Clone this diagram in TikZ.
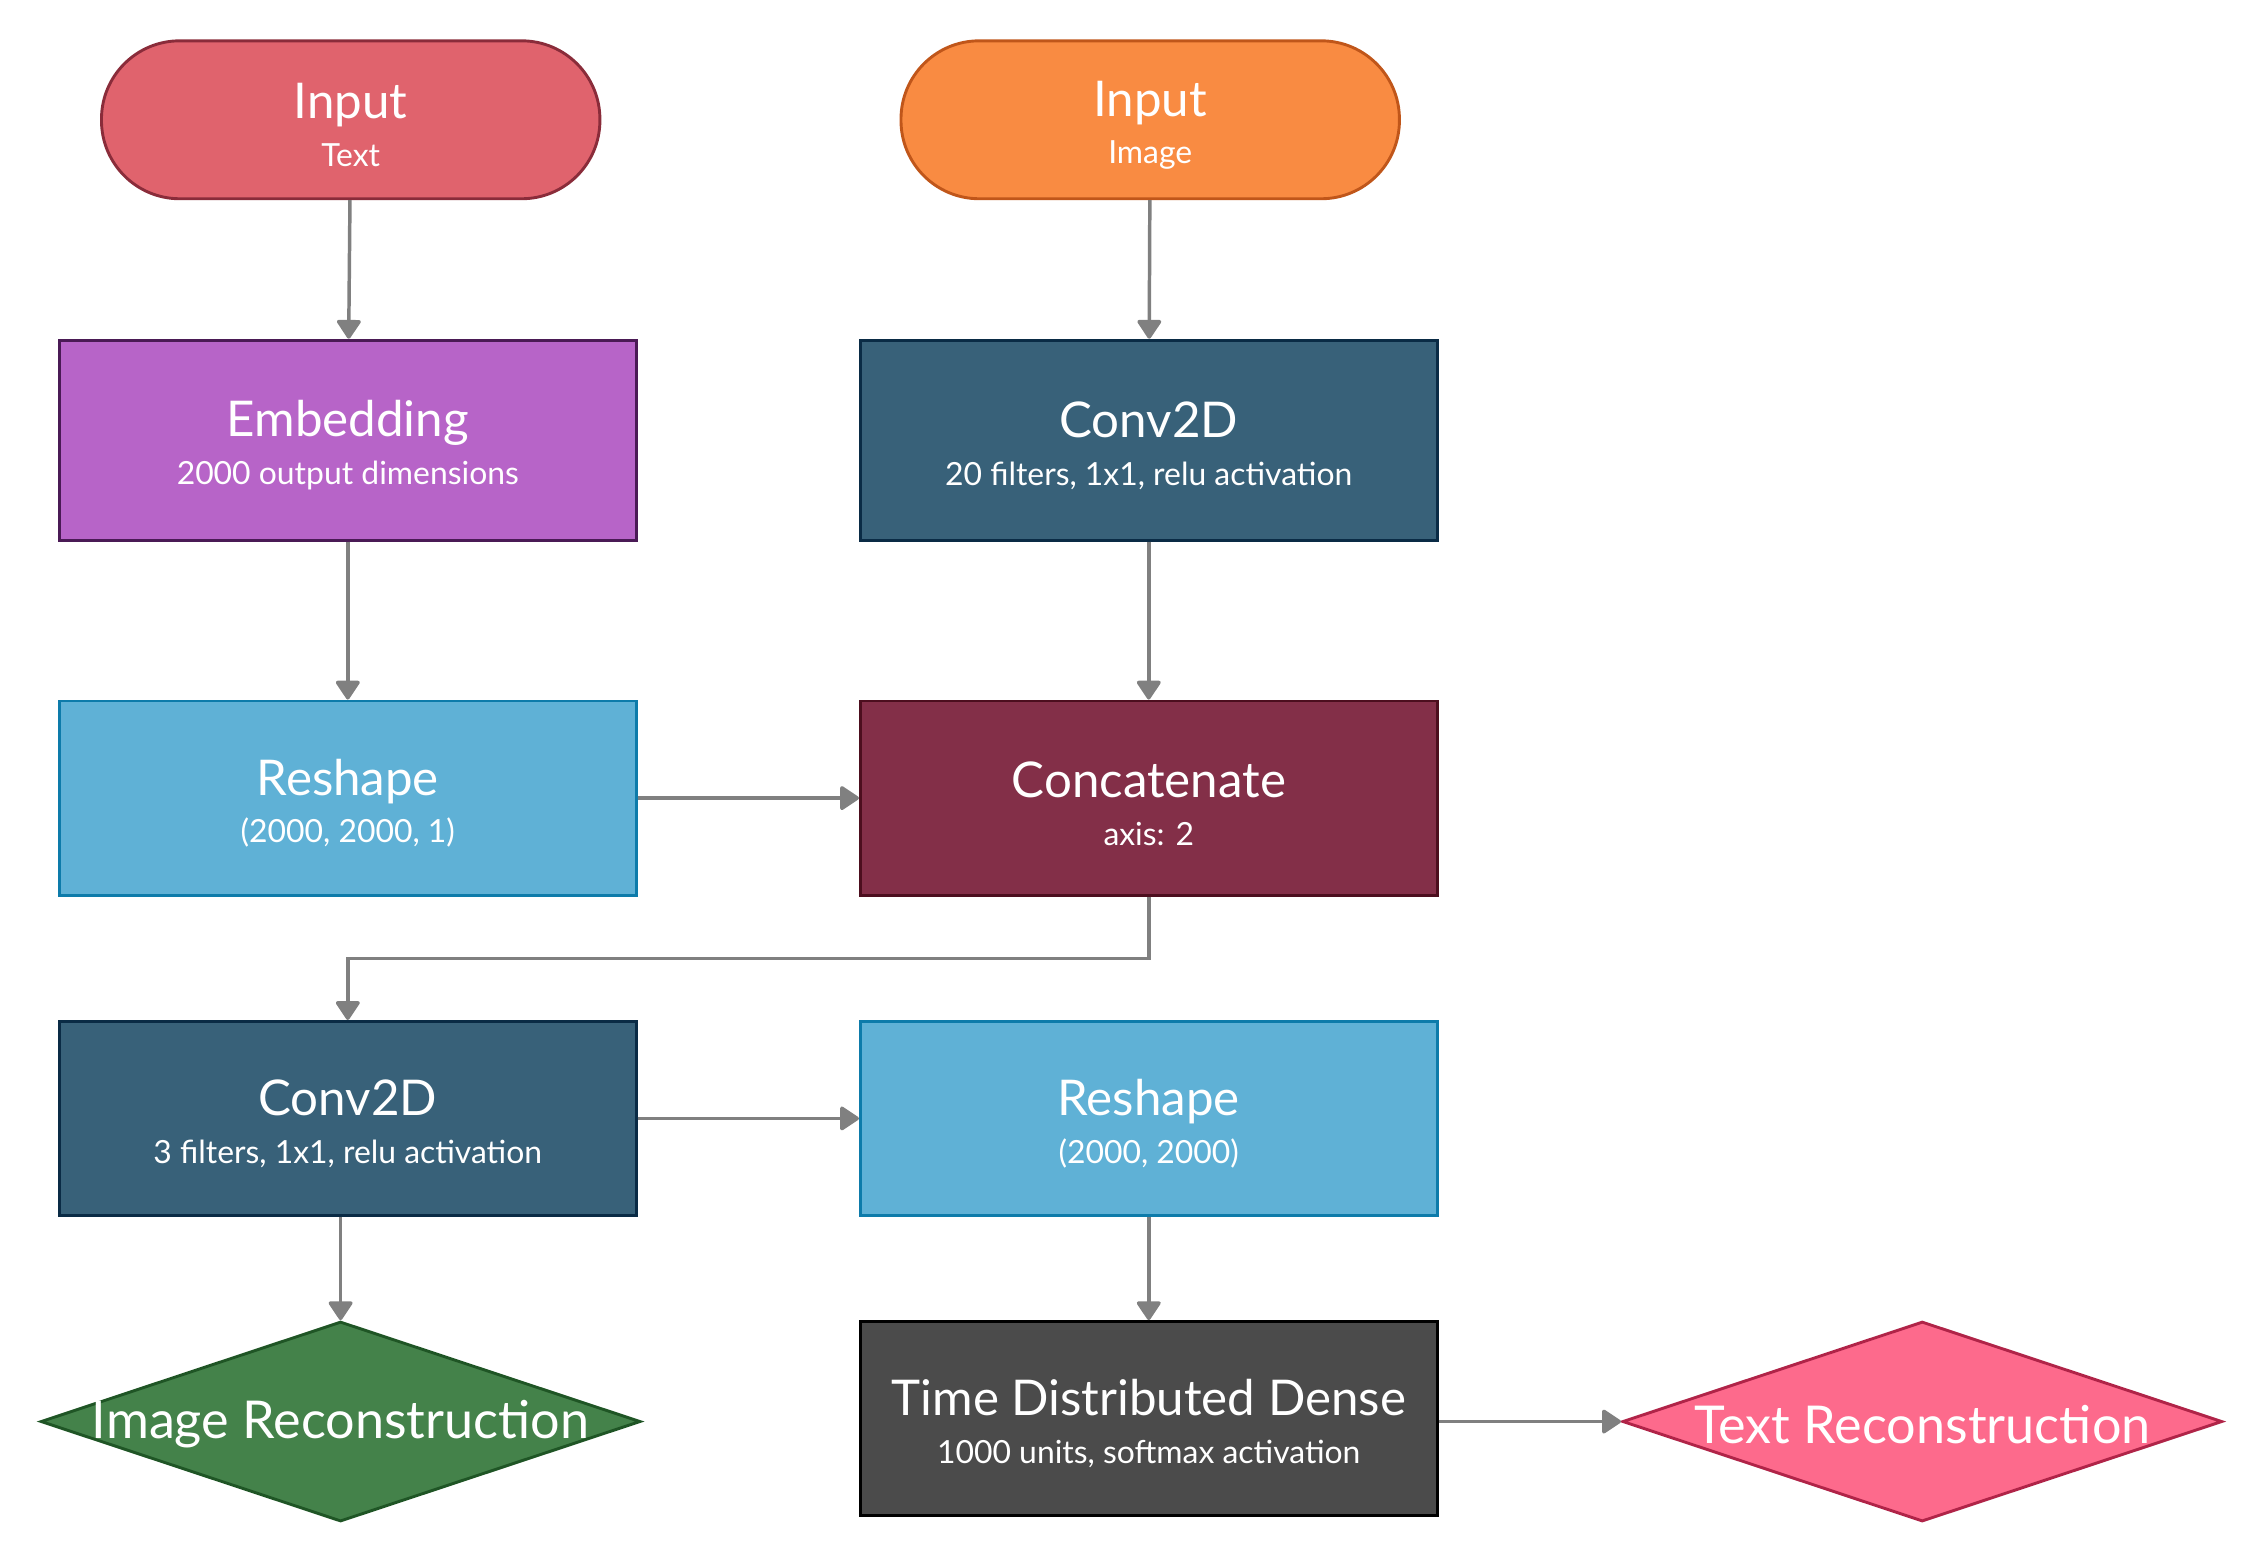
\documentclass[tikz,border=0pt]{standalone}
\usepackage{fontspec}
\setmainfont{Lato}
\usepackage{xcolor}
\usetikzlibrary{arrows.meta}
\usetikzlibrary{shapes.geometric}
\definecolor{txtred}{HTML}{E0636D}
\definecolor{txtredd}{HTML}{8A2C3A}
\definecolor{imgorange}{HTML}{F98B42}
\definecolor{imgoranged}{HTML}{C0561A}
\definecolor{embpurple}{HTML}{B764C8}
\definecolor{embpurpled}{HTML}{4A1A55}
\definecolor{convblue}{HTML}{386179}
\definecolor{convblued}{HTML}{0A2B45}
\definecolor{reshblue}{HTML}{5FB1D6}
\definecolor{reshblued}{HTML}{0D7BAA}
\definecolor{catred}{HTML}{832F48}
\definecolor{catredd}{HTML}{4C0E1E}
\definecolor{tddgray}{HTML}{4B4B4B}
\definecolor{imggreen}{HTML}{44824A}
\definecolor{imggreend}{HTML}{1F5525}
\definecolor{txtpink}{HTML}{FD6A8C}
\definecolor{txtpinkd}{HTML}{B02448}
\newcommand{\ttl}{\fontsize{17}{19}\selectfont\rule{0pt}{16pt}}
\newcommand{\sub}{\fontsize{11}{13}\selectfont}
\tikzset{layer/.style = {draw, line width=1pt, minimum width=199pt, minimum height=67pt, text=white, align=center, inner sep=0},
         inbox/.style = {layer, rounded corners=27pt, minimum width=172pt, minimum height=54.5pt},
         outdiam/.style = {diamond, draw, line width=1pt, minimum width=207pt, minimum height=69pt, inner sep=0},
         dlabel/.style = {text=white, font=\fontsize{18}{20}\selectfont, inner sep=0, yshift=-1pt},
         conn/.style = {draw=gray, line width=1.2pt, -{Triangle[length=7pt,width=9pt,round]}}}

\begin{document}
\begin{tikzpicture}[x=0.498pt,y=-0.498pt]
        \useasboundingbox (0,0) rectangle (1566,1081);
        \node [inbox, fill=txtred, draw=txtredd] (intext) at (243,83) {\ttl Input\\[4.5pt] \sub Text};
        \node [inbox, fill=imgorange, draw=imgoranged] (inimg) at (797,83) {\ttl Input\\[4.5pt] \sub Image};
        \node [layer, fill=embpurple, draw=embpurpled, minimum height=69pt] (embed) at (241,305) {\ttl Embedding\\[4.5pt] \sub 2000 output dimensions};
        \node [layer, fill=convblue, draw=convblued, minimum height=69pt] (convA) at (796,305) {\ttl Conv2D\\[4.5pt] \sub 20 filters, 1x1, relu activation};
        \node [layer, fill=reshblue, draw=reshblued] (reshA) at (241,553) {\ttl Reshape\\[4.5pt] \sub (2000, 2000, 1)};
        \node [layer, fill=catred, draw=catredd] (concat) at (796,553) {\ttl Concatenate\\[4.5pt] \sub axis: 2};
        \node [layer, fill=convblue, draw=convblued] (convB) at (241,775) {\ttl Conv2D\\[4.5pt] \sub 3 filters, 1x1, relu activation};
        \node [layer, fill=reshblue, draw=reshblued] (reshB) at (796,775) {\ttl Reshape\\[4.5pt] \sub (2000, 2000)};
        \node [layer, fill=tddgray, draw=black] (tdd) at (796,983) {\ttl Time Distributed Dense\\[4.5pt] \sub 1000 units, softmax activation};
        \node [outdiam, fill=imggreen, draw=imggreend, label={[dlabel]center:Image Reconstruction}] (imgrec) at (236,985) {};
        \node [outdiam, fill=txtpink, draw=txtpinkd, label={[dlabel]center:Text Reconstruction}] (txtrec) at (1332,985) {};
        % connectors
        \draw [conn] (intext) -- (embed);
        \draw [conn] (embed) -- (reshA);
        \draw [conn] (inimg) -- (convA);
        \draw [conn] (convA) -- (concat);
        \draw [conn] (reshA) -- (concat);
        \draw [conn] (concat.south) -- ++(0,43) -| (convB.north);
        \draw [conn] (convB) -- (reshB);
        \draw [conn] (convB.south -| imgrec.north) -- (imgrec.north);
        \draw [conn] (reshB) -- (tdd);
        \draw [conn] (tdd.east |- txtrec.west) -- (txtrec.west);
    \end{tikzpicture}
\end{document}
